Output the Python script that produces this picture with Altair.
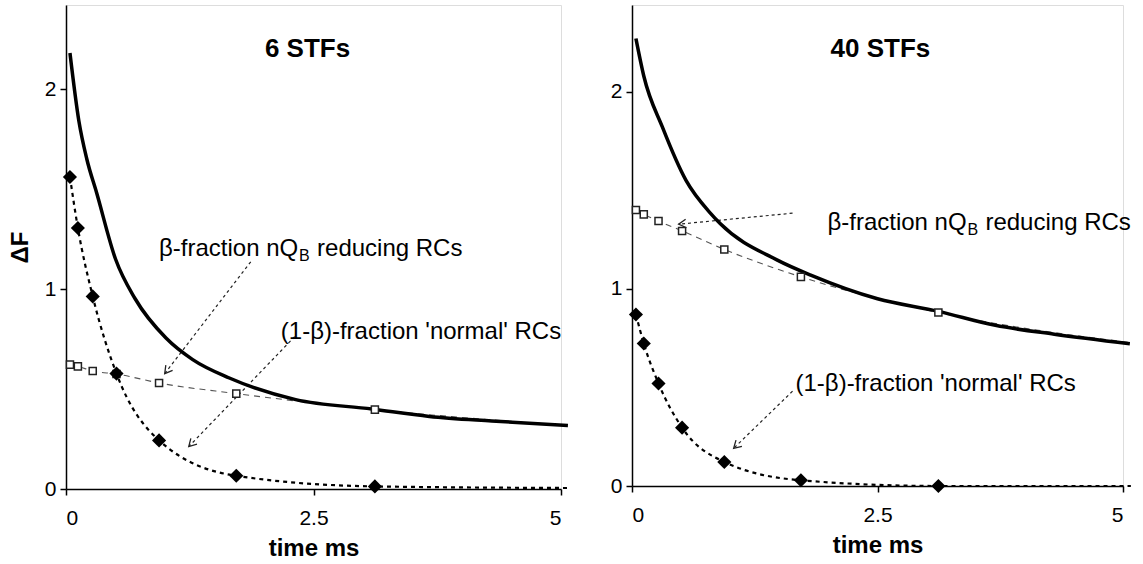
import altair as alt
import pandas as pd

FONT = "Liberation Sans"

# sampling times (ms) of the two fitted components
t_fit = [0.04, 0.12, 0.27, 0.51, 0.94, 1.72, 3.12]
t_end = 5.08

# ---- 6 STFs ----
curve6_t = [0.04, 0.13, 0.21, 0.31, 0.50, 0.70, 1.01, 1.28, 1.65, 2.32, 3.09, 3.67, 4.30, 5.07]
curve6_F = [2.18, 1.84, 1.65, 1.48, 1.15, 0.95, 0.755, 0.647, 0.555, 0.447, 0.40, 0.363, 0.34, 0.317]
normal6 = [1.56, 1.305, 0.963, 0.577, 0.243, 0.066, 0.013]
normal6_end = 0.005
beta6 = [0.622, 0.613, 0.59, 0.575, 0.53, 0.477, 0.397]
beta6_end = 0.317

# ---- 40 STFs ----
curve40_t = [0.04, 0.12, 0.31, 0.55, 0.80, 0.90, 1.48, 1.82, 2.5, 3.12, 3.7, 4.3, 5.07]
curve40_F = [2.27, 2.08, 1.82, 1.55, 1.383, 1.33, 1.146, 1.07, 0.95, 0.886, 0.815, 0.77, 0.722]
normal40 = [0.87, 0.723, 0.52, 0.296, 0.122, 0.029, 0.0]
normal40_end = 0.0
beta40 = [1.40, 1.378, 1.344, 1.294, 1.20, 1.061, 0.88]
beta40_end = 0.727

# annotation anchors (t, F) and arrows (from -> to, head angle in degrees)
beta_label6 = (0.94, 1.166)
normal_label6 = (2.17, 0.75)
arrows6 = {"t": [1.866, 2.31], "F": [1.136, 0.762], "t2": [0.997, 1.24], "F2": [0.577, 0.212],
           "angle": [127.5, 134.0]}
beta_label40 = (1.99, 1.30)
normal_label40 = (1.665, 0.48)
arrows40 = {"t": [1.635, 1.635], "F": [1.384, 0.481], "t2": [0.475, 1.035], "F2": [1.328, 0.191],
            "angle": [174.5, 136.0]}

ARROW_HEAD = "M -1.3 -0.75 L 0 0 L -1.3 0.75"


def panel(title, title_t, title_F, curve_t, curve_F, normal, normal_end, beta, beta_end,
          beta_lab, normal_lab, arrows, ytitle, ymax, width, height):
    yaxis_kw = dict(values=[0, 1, 2], format="d", grid=False, tickSize=6, tickColor="black",
                    tickWidth=1.5, domainColor="black", domainWidth=1.5, labelFont=FONT,
                    labelFontSize=21, labelColor="black", labelPadding=4,
                    titleFont=FONT, titleFontSize=24, titleFontWeight="bold", titleColor="black",
                    titlePadding=12)
    if ytitle:
        yaxis = alt.Axis(title=ytitle, **yaxis_kw)
    else:
        yaxis = alt.Axis(title=None, **yaxis_kw)
    xaxis = alt.Axis(title="time ms", values=[0, 2.5, 5], format=".1~f", grid=False, tickSize=6,
                     tickColor="black", tickWidth=1.5, domainColor="black", domainWidth=1.5,
                     labelFont=FONT, labelFontSize=21, labelColor="black", labelPadding=12,
                     titleFont=FONT, titleFontSize=24, titleFontWeight="bold",
                     titleColor="black", titlePadding=8)
    xs = alt.Scale(domain=[0, 5], nice=False)
    ys = alt.Scale(domain=[0, ymax], nice=False)
    X = alt.X("t:Q", scale=xs, axis=xaxis)
    Y = alt.Y("F:Q", scale=ys, axis=yaxis)

    curve = pd.DataFrame({"t": curve_t, "F": curve_F})
    nline = pd.DataFrame({"t": t_fit + [t_end], "F": normal + [normal_end]})
    bline = pd.DataFrame({"t": t_fit + [t_end], "F": beta + [beta_end]})
    npts = pd.DataFrame({"t": t_fit, "F": normal})
    bpts = pd.DataFrame({"t": t_fit, "F": beta})
    arr = pd.DataFrame(arrows)

    layers = [
        alt.Chart(arr).mark_rule(color="#222", strokeWidth=1.2, strokeDash=[3, 3]).encode(
            x=X, y=Y, x2="t2:Q", y2="F2:Q"),
        alt.Chart(arr).mark_point(shape=ARROW_HEAD, size=130, filled=False, color="#222",
                                  strokeWidth=1.3, opacity=1).encode(
            x=alt.X("t2:Q", scale=xs, axis=xaxis),
            y=alt.Y("F2:Q", scale=ys, axis=yaxis),
            angle=alt.Angle("angle:Q", scale=None)),
        alt.Chart(bline).mark_line(color="#555", strokeWidth=1.1, strokeDash=[6, 5],
                                   interpolate="monotone").encode(x=X, y=Y),
        alt.Chart(curve).mark_line(color="black", strokeWidth=3.5,
                                   interpolate="monotone").encode(x=X, y=Y),
        alt.Chart(nline).mark_line(color="black", strokeWidth=2.2, strokeDash=[4, 4],
                                   interpolate="monotone").encode(x=X, y=Y),
        alt.Chart(bpts).mark_point(shape="square", size=50, filled=True, fill="white",
                                   stroke="#222", strokeWidth=1.5, opacity=1).encode(x=X, y=Y),
        alt.Chart(npts).mark_point(shape="diamond", size=200, filled=True, color="black",
                                   opacity=1).encode(x=X, y=Y),
    ]

    def text(df, **kw):
        base = dict(font=FONT, color="black", align="left", baseline="alphabetic", fontSize=24)
        base.update(kw)
        return alt.Chart(df).mark_text(**base).encode(x=X, y=Y, text="label:N")

    bl = pd.DataFrame({"t": [beta_lab[0]], "F": [beta_lab[1]]})
    layers += [
        text(bl.assign(label="β-fraction nQ")),
        text(bl.assign(label="B"), fontSize=16, dx=140, dy=5),
        text(bl.assign(label="reducing RCs"), dx=158),
        text(pd.DataFrame({"t": [normal_lab[0]], "F": [normal_lab[1]],
                           "label": ["(1-β)-fraction 'normal' RCs"]})),
        text(pd.DataFrame({"t": [title_t], "F": [title_F], "label": [title]}),
             align="center", fontSize=26, fontWeight="bold"),
    ]
    return alt.layer(*layers).properties(width=width, height=height)


left = panel("6 STFs", 2.44, 2.16, curve6_t, curve6_F, normal6, normal6_end, beta6, beta6_end,
             beta_label6, normal_label6, arrows6, "ΔF", 2.42, 495, 484)
right = panel("40 STFs", 2.53, 2.176, curve40_t, curve40_F, normal40, normal40_end, beta40,
              beta40_end, beta_label40, normal_label40, arrows40, "", 2.44, 491, 481)

chart = alt.hconcat(left, right, spacing=33).properties(
    padding={"left": 7, "top": 4, "right": 0, "bottom": 0}
).configure_view(strokeWidth=0).configure(background="white")

chart.save("out.html", embed_options={"renderer": "svg", "actions": False})
